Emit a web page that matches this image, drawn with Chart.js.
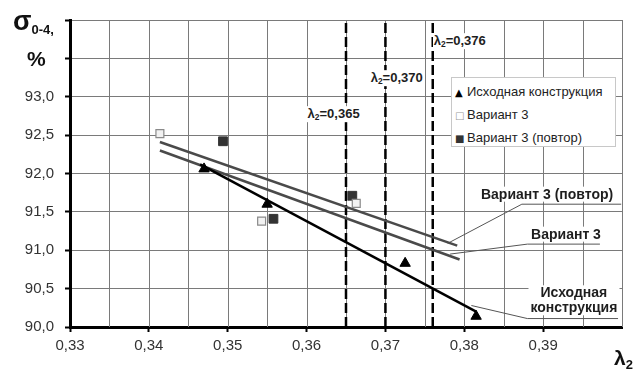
<!DOCTYPE html>
<html>
<head>
<meta charset="utf-8">
<script src="https://cdn.jsdelivr.net/npm/chart.js@4.4.1/dist/chart.umd.min.js"></script>
<style>
  body { margin:0; background:#fff; font-family:"Liberation Sans", Arial, sans-serif; }
  #wrap { position:relative; width:643px; height:372px; overflow:hidden; }
  #c { position:absolute; left:0; top:0; }
  .note { position:absolute; background:#fff; font-weight:bold; color:#1e1e1e; white-space:nowrap; line-height:1.05; }
  .note sub { font-size:65%; vertical-align:-2px; line-height:0; }
  .lam { font-size:13px; padding:1px 1px; transform:translate(0,-50%); }
  .cap { font-size:14px; text-align:center; padding:0 2px; transform:translate(-50%,-50%); }
  #ytitle { position:absolute; left:13px; top:6px; font-weight:bold; color:#111; }
  #ytitle .s { font-size:27px; }
  #ytitle .sub { font-size:13px; position:relative; top:4px; }
  #ytitle .p { position:absolute; left:14px; top:41px; font-size:21px; }
  #xtitle { position:absolute; left:614px; top:346px; font-weight:bold; font-size:21px; color:#111; }
  #xtitle sub { font-size:13px; vertical-align:-4px; line-height:0; }
  #legend { position:absolute; left:451px; top:77px; width:165px; height:70px; background:#fff;
            border:1px solid #c8c8c8; font-size:13px; color:#222; box-sizing:border-box; }
  #legend div { position:absolute; left:3px; white-space:nowrap; }
  #legend .m { font-family:"DejaVu Sans", sans-serif; font-size:10px; display:inline-block; width:12px; }
</style>
</head>
<body>
<div id="wrap">
  <canvas id="c" width="643" height="372"></canvas>
  <div id="ytitle"><span class="s">σ</span><span class="sub">0-4,</span><span class="p">%</span></div>
  <div id="xtitle">λ<sub>2</sub></div>
  <div id="legend">
    <div style="top:6px"><span class="m" style="color:#000">▲</span>Исходная конструкция</div>
    <div style="top:29px"><span class="m" style="color:#999">□</span>Вариант 3</div>
    <div style="top:52px"><span class="m" style="color:#333">■</span>Вариант 3 (повтор)</div>
  </div>
</div>
<script>
// исходная конструкция (треугольники)
const baseX = [0.347, 0.355, 0.3725, 0.3815];
const baseY = [92.06, 91.60, 90.83, 90.14];
// вариант 3 (пустые квадраты)
const v3X = [0.3414, 0.3543, 0.3663];
const v3Y = [92.52, 91.38, 91.61];
// вариант 3 повтор (заполненные квадраты)
const v3rX = [0.3494, 0.3558, 0.3658];
const v3rY = [92.42, 91.41, 91.71];

// линии тренда
const baseTrendX = [0.3465, 0.3815];
const baseTrendY = [92.12, 90.20];
const v3TrendX = [0.3414, 0.3794];
const v3TrendY = [92.30, 90.88];
const v3rTrendX = [0.3414, 0.3791];
const v3rTrendY = [92.41, 91.06];

// вертикальные пунктиры
const lambdaMarks = [0.365, 0.370, 0.376];

// выноски к подписям линий
const leadV3rX = [0.3779, 0.3873, 0.3999];
const leadV3rY = [91.09, 91.60, 91.60];
const leadV3X = [0.3782, 0.3880, 0.3972];
const leadV3Y = [90.95, 91.08, 91.08];
const leadBaseX = [0.3809, 0.3880, 0.3995];
const leadBaseY = [90.28, 90.11, 90.11];

// сетка по оси X (через 0,005), подписи только у сотых
const xGrid = [0.330, 0.335, 0.340, 0.345, 0.350, 0.355, 0.360, 0.365,
               0.370, 0.375, 0.380, 0.385, 0.390, 0.395, 0.400];
const xLabels = ['0,33','','0,34','','0,35','','0,36','','0,37','','0,38','','0,39','',''];

const X_MIN = 0.33, X_MAX = 0.40, Y_MIN = 90, Y_MAX = 94;
const GRID_COLOR = '#7a7a7a';

const pts = (xs, ys) => xs.map((x,i)=>({x, y:ys[i]}));
const comma = (v,d) => v.toFixed(d).replace('.', ',');

// подписи на графике (в координатах данных)
const NOTES = [
  {html:'λ<sub>2</sub>=0,365', x:0.3600, y:92.77, cls:'lam'},
  {html:'λ<sub>2</sub>=0,370', x:0.3680, y:93.24, cls:'lam'},
  {html:'λ<sub>2</sub>=0,376', x:0.3760, y:93.72, cls:'lam'},
  {html:'Вариант 3 (повтор)', x:0.3905, y:91.73, cls:'cap'},
  {html:'Вариант 3', x:0.3929, y:91.21, cls:'cap'},
  {html:'Исходная<br>конструкция', x:0.3939, y:90.35, cls:'cap'},
];

const wrap = document.getElementById('wrap');
const noteEls = NOTES.map(n => {
  const el = document.createElement('div');
  el.className = 'note ' + n.cls;
  el.innerHTML = n.html;
  wrap.appendChild(el);
  return el;
});

const notesPlugin = {
  id: 'notes',
  // вертикальная сетка рисуется здесь целиком, по значениям xGrid
  beforeDatasetsDraw(chart) {
    const {ctx, chartArea:a} = chart, sx = chart.scales.x;
    ctx.save();
    ctx.lineWidth = 1;
    ctx.strokeStyle = GRID_COLOR;
    xGrid.forEach(v => {
      if (v <= X_MIN) return;
      const px = Math.round(sx.getPixelForValue(v)) + 0.5;
      ctx.beginPath(); ctx.moveTo(px, a.top); ctx.lineTo(px, a.bottom); ctx.stroke();
    });
    ctx.restore();
  },
  afterDraw(chart) {
    const sx = chart.scales.x, sy = chart.scales.y;
    NOTES.forEach((n,i) => {
      noteEls[i].style.left = sx.getPixelForValue(n.x) + 'px';
      noteEls[i].style.top = sy.getPixelForValue(n.y) + 'px';
    });
  }
};

const lineDs = (data, color, width, extra) => Object.assign({
  data, showLine:true, borderColor:color, borderWidth:width,
  pointRadius:0, pointHoverRadius:0, fill:false, tension:0
}, extra || {});

const datasets = [
  {label:'Исходная конструкция', data:pts(baseX, baseY), pointStyle:'triangle',
   pointRadius:6, backgroundColor:'#000', borderColor:'#000', borderWidth:1, order:1},
  {label:'Вариант 3', data:pts(v3X, v3Y), pointStyle:'rect',
   pointRadius:5.6, backgroundColor:'#f2f2f2', borderColor:'#8a8a8a', borderWidth:1.2, order:1},
  {label:'Вариант 3 (повтор)', data:pts(v3rX, v3rY), pointStyle:'rect',
   pointRadius:6.2, backgroundColor:'#333', borderColor:'#333', borderWidth:1, order:1},
  lineDs(pts(baseTrendX, baseTrendY), '#000', 2.5, {order:2}),
  lineDs(pts(v3TrendX, v3TrendY), '#4a4a4a', 2.5, {order:2}),
  lineDs(pts(v3rTrendX, v3rTrendY), '#4a4a4a', 2.5, {order:2}),
  lineDs(pts(leadV3rX, leadV3rY), '#555', 1, {order:3}),
  lineDs(pts(leadV3X, leadV3Y), '#555', 1, {order:3}),
  lineDs(pts(leadBaseX, leadBaseY), '#555', 1, {order:3}),
  ...lambdaMarks.map(v => lineDs([{x:v, y:Y_MIN}, {x:v, y:Y_MAX}], '#000', 2.5,
       {borderDash:[10,4], order:4})),
];

new Chart(document.getElementById('c'), {
  type: 'scatter',
  data: { datasets },
  options: {
    responsive:false,
    animation:false,
    devicePixelRatio:1,
    layout:{ padding:{ top:13, right:21, left:0, bottom:0 } },
    plugins:{ legend:{display:false}, tooltip:{enabled:false} },
    scales:{
      x:{
        type:'linear', min:X_MIN, max:X_MAX,
        afterBuildTicks(s){ s.ticks = xGrid.map(v => ({value:v})); },
        afterFit(s){ s.height = 45; },
        ticks:{ autoSkip:false, maxRotation:0, padding:5,
          color:'#333', font:{family:'"Liberation Sans", Arial', size:15},
          callback:(v, i) => xLabels[i] },
        grid:{ drawOnChartArea:false, tickLength:5, tickWidth:2,
          tickColor:(c) => (c.index !== undefined && xLabels[c.index]) ? '#000' : 'rgba(0,0,0,0)' },
        border:{ color:'#000', width:3 }
      },
      y:{
        type:'linear', min:Y_MIN, max:Y_MAX,
        afterFit(s){ s.width = 70; },
        ticks:{ stepSize:0.5, padding:11,
          color:'#333', font:{family:'"Liberation Sans", Arial', size:15},
          callback:(v) => v <= 93.001 ? comma(v,1) : '' },
        grid:{ color:GRID_COLOR, lineWidth:1, tickLength:5, tickWidth:2, tickColor:'#000' },
        border:{ color:'#000', width:3 }
      }
    }
  },
  plugins:[notesPlugin]
});
</script>
</body>
</html>
